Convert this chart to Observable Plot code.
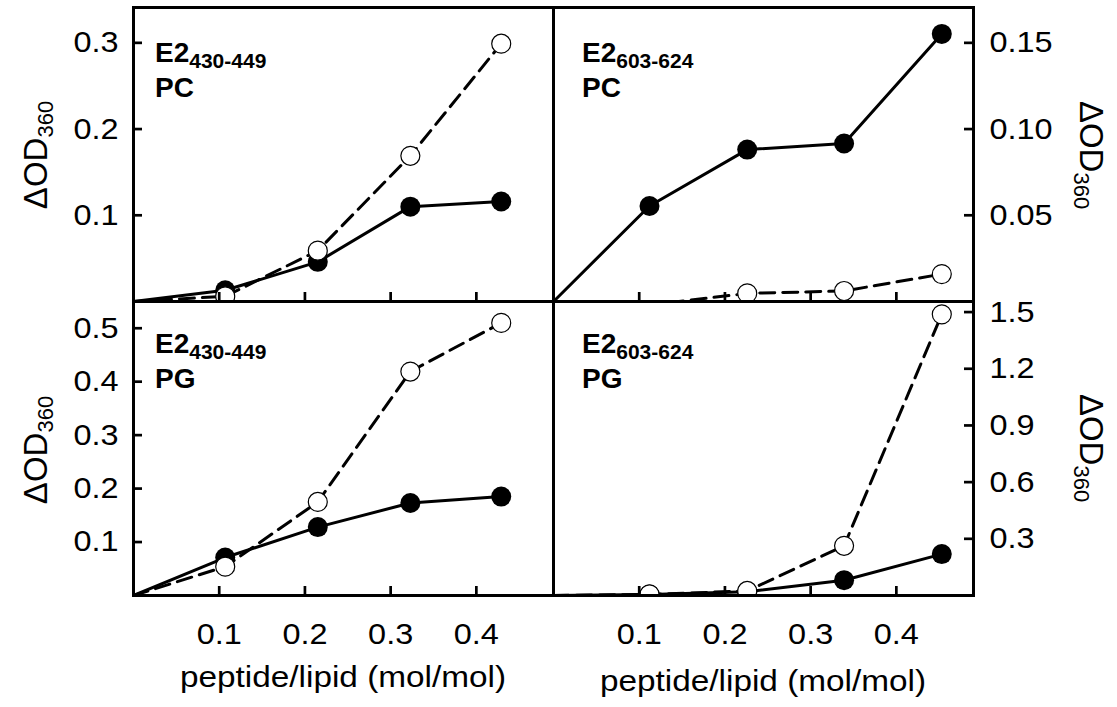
<!DOCTYPE html>
<html><head><meta charset="utf-8">
<script src="https://cdn.jsdelivr.net/npm/d3@7"></script>
<script src="https://cdn.jsdelivr.net/npm/@observablehq/plot@0.6"></script>
<style>
body{margin:0;background:#fff;}
#chart{position:relative;width:1117px;height:707px;font-family:"Liberation Sans",Arial,sans-serif;}
#chart svg{position:absolute;overflow:visible;}
#chart svg [aria-label$="tick label"] text{font-size:29.5px !important;font-family:"Liberation Sans",Arial,sans-serif !important;fill:#000;}
</style></head><body><div id="chart"></div>
<script>
// peptide/lipid ratios (mol/mol)
const xE430 = [0, 0.107, 0.215, 0.323, 0.429];
const xE603 = [0, 0.112, 0.226, 0.339, 0.453];
// ΔOD360 values: filled = solid line, open = dashed line
const pcE430Filled = [0, 0.013, 0.046, 0.110, 0.116];
const pcE430Open   = [0, 0.006, 0.059, 0.169, 0.299];
const pcE603Filled = [0, 0.0554, 0.0881, 0.0916, 0.1552];
const pcE603Open   = [0, -0.002, 0.0047, 0.0061, 0.0159];
const pgE430Filled = [0, 0.071, 0.128, 0.173, 0.185];
const pgE430Open   = [0, 0.054, 0.175, 0.419, 0.510];
const pgE603Filled = [0, 0.005, 0.020, 0.081, 0.219];
const pgE603Open   = [0, 0.006, 0.024, 0.263, 1.488];
// tick values
const xTicks = [0.1, 0.2, 0.3, 0.4];
const yTicksPcE430 = [0.1, 0.2, 0.3];
const yTicksPcE603 = [0.05, 0.10, 0.15];
const yTicksPgE430 = [0.1, 0.2, 0.3, 0.4, 0.5];
const yTicksPgE603 = [0.3, 0.6, 0.9, 1.2, 1.5];
const xLabel = "peptide/lipid (mol/mol)";

const chart = document.getElementById("chart");
const FONT = "'Liberation Sans', Arial, sans-serif";
const TICK = 9;

function widen(el, target) {
  const L = el.getComputedTextLength();
  if (L > 0) {
    el.setAttribute("textLength", target(L));
    el.setAttribute("lengthAdjust", "spacingAndGlyphs");
  }
}

function panel(o) {
  const rows = (xs, ys) => xs.map((x, i) => ({x, y: ys[i], i}));
  const F = rows(o.xs, o.filled), O = rows(o.xs, o.open);
  const fw = o.width - o.ml - o.mr, fh = o.height - o.mt - o.mb;
  const left = o.yAnchor === "left";
  const svg = Plot.plot({
    width: o.width, height: o.height,
    marginLeft: o.ml, marginRight: o.mr, marginTop: o.mt, marginBottom: o.mb,
    style: {fontSize: "28px", fontFamily: FONT, overflow: "visible", background: "transparent", color: "black"},
    x: {domain: [0, 0.49]},
    y: {domain: o.yDomain},
    marks: [
      Plot.line(F, {x: "x", y: "y", stroke: "black", strokeWidth: 3, clip: true}),
      Plot.line(O, {x: "x", y: "y", stroke: "black", strokeWidth: 3, strokeDasharray: "15,8", clip: true}),
      Plot.dot(F.filter(d => d.i > 0 && d.y > 0), {x: "x", y: "y", r: 10, fill: "black", clip: true}),
      Plot.dot(O.filter(d => d.i > 0 && d.y > 0), {x: "x", y: "y", r: 9.5, fill: "white", stroke: "black", strokeWidth: 1.2, clip: true}),
      Plot.tickX(xTicks, {x: d => d, stroke: "black", strokeWidth: 2.7, insetTop: fh - TICK}),
      Plot.tickY(o.yTicks, {y: d => d, stroke: "black", strokeWidth: 2.7,
        insetRight: left ? fw - TICK : 0, insetLeft: left ? 0 : fw - TICK}),
      Plot.axisX(xTicks, {anchor: "bottom", tickSize: 0, tickPadding: 28,
        tickFormat: o.showX ? (d => d.toFixed(1)) : (() => ""), label: null}),
      Plot.axisY(o.yTicks, {anchor: o.yAnchor, tickSize: 0, tickPadding: left ? 15 : 16,
        tickFormat: d => d.toFixed(o.dec), label: null}),
      Plot.frame({stroke: "black", strokeWidth: 3})
    ]
  });
  svg.style.left = o.left + "px";
  svg.style.top = o.top + "px";
  chart.appendChild(svg);
  svg.querySelectorAll('[aria-label$="tick label"] text').forEach(t => widen(t, L => L * 1.1));
  const s = d3.select(svg);
  // panel label
  const t1 = s.append("text").attr("x", o.lx).attr("y", o.ly).attr("text-anchor", "start")
    .attr("font-family", FONT).attr("font-weight", "bold").attr("font-size", 28).attr("fill", "black");
  t1.append("tspan").text("E2");
  t1.append("tspan").attr("font-size", 21).attr("dy", 6).text(o.peptide);
  s.append("text").attr("x", o.lx).attr("y", o.ly + 35).attr("text-anchor", "start")
    .attr("font-family", FONT).attr("font-weight", "bold").attr("font-size", 28).attr("fill", "black")
    .text(o.lipid);
  // y label
  const yl = s.append("text")
    .attr("transform", `translate(${o.yx},${o.yy}) rotate(${left ? -90 : 90})`)
    .attr("text-anchor", "middle").attr("font-family", FONT).attr("font-size", 33).attr("fill", "black");
  yl.append("tspan").text("\u0394OD");
  yl.append("tspan").attr("font-size", 22).attr("dy", 6).text("360");
  if (o.showX) {
    const xl = s.append("text").attr("x", o.xlx).attr("y", o.xly).attr("text-anchor", "middle")
      .attr("font-family", FONT).attr("font-size", 29).attr("fill", "black").text(xLabel);
    widen(xl.node(), () => 326);
  }
}

panel({left: 0, top: 0, width: 553, height: 301, ml: 133, mr: 0, mt: 7, mb: 0,
  xs: xE430, filled: pcE430Filled, open: pcE430Open, yDomain: [0, 0.341], yTicks: yTicksPcE430, dec: 1,
  yAnchor: "left", showX: false, peptide: "430-449", lipid: "PC", lx: 155, ly: 62, yx: 47, yy: 155});
panel({left: 553, top: 0, width: 564, height: 301, ml: 0, mr: 144, mt: 7, mb: 0,
  xs: xE603, filled: pcE603Filled, open: pcE603Open, yDomain: [0, 0.1705], yTicks: yTicksPcE603, dec: 2,
  yAnchor: "right", showX: false, peptide: "603-624", lipid: "PC", lx: 29, ly: 62, yx: 527, yy: 155});
panel({left: 0, top: 301, width: 553, height: 406, ml: 133, mr: 0, mt: 0, mb: 112,
  xs: xE430, filled: pgE430Filled, open: pgE430Open, yDomain: [0, 0.55], yTicks: yTicksPgE430, dec: 1,
  yAnchor: "left", showX: true, peptide: "430-449", lipid: "PG", lx: 155, ly: 52, yx: 47, yy: 149,
  xlx: 343, xly: 386});
panel({left: 553, top: 301, width: 564, height: 406, ml: 0, mr: 144, mt: 0, mb: 112,
  xs: xE603, filled: pgE603Filled, open: pgE603Open, yDomain: [0, 1.556], yTicks: yTicksPgE603, dec: 1,
  yAnchor: "right", showX: true, peptide: "603-624", lipid: "PG", lx: 29, ly: 52, yx: 527, yy: 147,
  xlx: 210, xly: 390});
</script></body></html>
